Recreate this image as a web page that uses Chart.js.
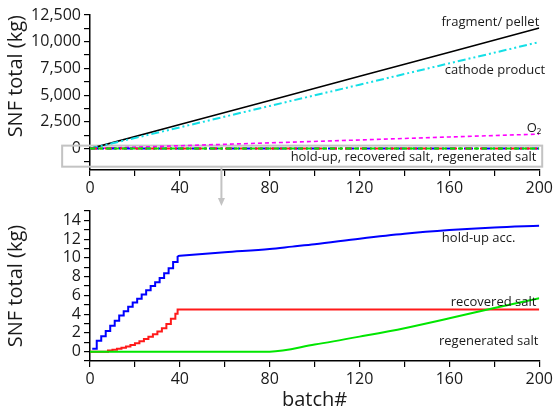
<!DOCTYPE html>
<html>
<head>
<meta charset="utf-8">
<script src="https://cdn.jsdelivr.net/npm/chart.js@4.4.1/dist/chart.umd.min.js"></script>
<style>
  body { margin: 0; background: #fff; width: 556px; height: 412px; position: relative; overflow: hidden; }
  canvas { position: absolute; left: 0; }
  #topChart { top: 0; z-index: 2; }
  #bottomChart { top: 195px; z-index: 1; }
</style>
</head>
<body>
<canvas id="bottomChart" width="556" height="217"></canvas>
<canvas id="topChart" width="556" height="210"></canvas>
<script>
// ---- data ----
var batch    = [0, 40, 80, 120, 160, 200];
var fragment = [0, 2260, 4510, 6770, 9020, 11280];
var cathode  = [0, 1990, 3990, 5980, 7980, 9970];
var oxygen   = [0, 270, 540, 810, 1090, 1360];

// hold-up: staircase part (batch 1-39) and the smooth part after
var holdupStepBatch = [1, 3, 5, 7, 9, 11, 13, 15, 17, 19, 21, 23, 25, 27, 29, 31, 33, 35, 37, 39];
var holdupStep      = [0.3, 1.15, 1.65, 2.2, 2.75, 3.3, 3.85, 4.3, 4.8, 5.25, 5.65, 6.1, 6.55, 7.0, 7.4, 7.85, 8.35, 8.9, 9.55, 10.2];
var holdupBatch = [39, 40, 60, 80, 90, 100, 120, 140, 160, 180, 200];
var holdup      = [10.2, 10.22, 10.6, 10.95, 11.2, 11.45, 12.05, 12.58, 12.97, 13.25, 13.43];

var recoveredBatch = [0, 8, 10, 12, 14, 16, 18, 20, 22, 24, 26, 28, 30, 32, 34, 36, 38, 39, 200];
var recovered      = [0, 0.12, 0.2, 0.3, 0.42, 0.55, 0.7, 0.9, 1.1, 1.35, 1.6, 1.85, 2.15, 2.5, 2.95, 3.5, 4.05, 4.5, 4.5];

var regenBatch = [0, 80, 100, 120, 140, 160, 180, 200];
var regen      = [0, 0, 0.75, 1.6, 2.5, 3.55, 4.65, 5.69];

// ticks
var xTicks = [0, 20, 40, 60, 80, 100, 120, 140, 160, 180, 200];
var xLabels = [0, 40, 80, 120, 160, 200];
var yTicksTop = [-1250, 0, 1250, 2500, 3750, 5000, 6250, 7500, 8750, 10000, 11250, 12500];
var yLabelsTop = [0, 2500, 5000, 7500, 10000, 12500];
var yTicksBottom = [-1, 0, 1, 2, 3, 4, 5, 6, 7, 8, 9, 10, 11, 12, 13, 14, 15];
var yLabelsBottom = [0, 2, 4, 6, 8, 10, 12, 14];

function pts(xs, ys) {
  return xs.map(function(x, i) { return {x: x, y: ys[i]}; });
}

var FONT = 'Open Sans';
var tickFont = {family: FONT, size: 16};
var textColor = '#1a1a1a';

var notes = {
  id: 'notes',
  beforeDatasetsDraw: function(chart, args, opts) {
    var b = opts.box;
    if (!b) return;
    var xs = chart.scales.x, ys = chart.scales.y, ctx = chart.ctx;
    var x0 = xs.getPixelForValue(b.x0), x1 = xs.getPixelForValue(b.x1);
    var y0 = ys.getPixelForValue(b.y0), y1 = ys.getPixelForValue(b.y1);
    ctx.save();
    ctx.strokeStyle = '#c3c3c3';
    ctx.lineWidth = 2;
    ctx.strokeRect(x0, y0, x1 - x0, y1 - y0);
    if (opts.arrow) {
      var ax = xs.getPixelForValue(opts.arrow.x);
      var ay = chart.height - 4;
      ctx.beginPath();
      ctx.moveTo(ax, y1);
      ctx.lineTo(ax, ay - 6);
      ctx.stroke();
      ctx.fillStyle = '#c3c3c3';
      ctx.beginPath();
      ctx.moveTo(ax - 3.5, ay - 8);
      ctx.lineTo(ax + 3.5, ay - 8);
      ctx.lineTo(ax, ay);
      ctx.closePath();
      ctx.fill();
    }
    ctx.restore();
  },
  afterDatasetsDraw: function(chart, args, opts) {
    var xs = chart.scales.x, ys = chart.scales.y, ctx = chart.ctx;
    ctx.save();
    ctx.fillStyle = textColor;
    ctx.textAlign = 'right';
    ctx.textBaseline = 'middle';
    (opts.texts || []).forEach(function(t) {
      ctx.font = '13px "' + FONT + '"';
      ctx.fillText(t.text, xs.getPixelForValue(t.x), ys.getPixelForValue(t.y));
    });
    ctx.restore();
  }
};

function xScale(showTitle, height) {
  return {
    type: 'linear', min: 0, max: 200,
    afterBuildTicks: function(s) { s.ticks = xTicks.map(function(v) { return {value: v}; }); },
    afterFit: function(s) { s.height = height; },
    ticks: {
      font: tickFont, color: textColor, padding: 3, maxRotation: 0, autoSkip: false,
      callback: function(v) { return xLabels.indexOf(v) >= 0 ? String(v) : ''; }
    },
    grid: {drawOnChartArea: false, drawTicks: true, tickLength: 6, color: '#000', lineWidth: 1.2},
    border: {color: '#000', width: 1.5},
    title: {display: showTitle, text: 'batch#', color: textColor, font: {family: FONT, size: 20}, padding: {top: 0, bottom: 0}}
  };
}

function yScale(min, max, ticks, labels, fmt, align) {
  return {
    type: 'linear', min: min, max: max,
    afterBuildTicks: function(s) { s.ticks = ticks.map(function(v) { return {value: v}; }); },
    afterFit: function(s) { s.width = 90; },
    ticks: {
      font: tickFont, color: textColor, padding: 3, autoSkip: false,
      callback: function(v) { return labels.indexOf(v) >= 0 ? fmt(v) : ''; }
    },
    grid: {drawOnChartArea: false, drawTicks: true, tickLength: 6, color: '#000', lineWidth: 1.2},
    border: {color: '#000', width: 1.5},
    title: {display: true, text: 'SNF total (kg)', align: align, color: textColor, font: {family: FONT, size: 20}, padding: {top: 4, bottom: 0}}
  };
}

var commonOpts = {
  responsive: false,
  animation: false,
  events: [],
  elements: {point: {radius: 0}, line: {borderCapStyle: 'butt'}},
  plugins: {legend: {display: false}, tooltip: {enabled: false}}
};

// ---- top chart ----
new Chart(document.getElementById('topChart'), {
  type: 'line',
  data: {
    datasets: [
      {data: pts(regenBatch, regen), borderColor: '#00e600', borderWidth: 2, borderDash: [5, 3]},
      {data: pts(recoveredBatch, recovered), borderColor: '#ff1a1a', borderWidth: 2, borderDash: [7, 3, 2, 3]},
      {data: pts(holdupBatch.slice(1).concat([]), holdup.slice(1)).length ? pts([0].concat(holdupBatch), [0].concat(holdup)) : [], borderColor: '#0000ff', borderWidth: 2, borderDash: [9, 3, 2, 3]},
      {data: pts(batch, oxygen), borderColor: '#ff00ff', borderWidth: 1.6, borderDash: [4, 3]},
      {data: pts(batch, cathode), borderColor: '#14dfe6', borderWidth: 2, borderDash: [8, 3, 2, 3, 2, 3]},
      {data: pts(batch, fragment), borderColor: '#000', borderWidth: 1.6}
    ]
  },
  options: Object.assign({}, commonOpts, {
    layout: {padding: {left: 0, right: 15, top: 15, bottom: 0}},
    scales: {
      x: xScale(false, 40),
      y: yScale(-2000, 12500, yTicksTop, yLabelsTop, function(v) { return v.toLocaleString('en-US'); }, 'end')
    },
    plugins: {
      legend: {display: false}, tooltip: {enabled: false},
      notes: {
        box: {x0: -12.4, x1: 201.3, y0: 280, y1: -1690},
        arrow: {x: 58.5},
        texts: [
          {text: 'fragment/ pellet', x: 200, y: 11840},
          {text: 'cathode product', x: 202.6, y: 7350},
          {text: 'O\u2082', x: 200.9, y: 1930},
          {text: 'hold-up, recovered salt, regenerated salt', x: 198.7, y: -790}
        ]
      }
    }
  }),
  plugins: [notes]
});

// ---- bottom chart ----
new Chart(document.getElementById('bottomChart'), {
  type: 'line',
  data: {
    datasets: [
      {data: pts(regenBatch, regen), borderColor: '#00e600', borderWidth: 2, cubicInterpolationMode: 'monotone'},
      {data: pts(recoveredBatch, recovered), borderColor: '#ff1a1a', borderWidth: 2, stepped: true},
      {data: pts(holdupStepBatch, holdupStep), borderColor: '#0000ff', borderWidth: 2, stepped: true},
      {data: pts(holdupBatch, holdup), borderColor: '#0000ff', borderWidth: 2, cubicInterpolationMode: 'monotone'}
    ]
  },
  options: Object.assign({}, commonOpts, {
    layout: {padding: {left: 0, right: 15, top: 16, bottom: 0}},
    scales: {
      x: xScale(true, 51),
      y: yScale(-1, 15, yTicksBottom, yLabelsBottom, function(v) { return String(v); }, 'center')
    },
    plugins: {
      legend: {display: false}, tooltip: {enabled: false},
      notes: {
        texts: [
          {text: 'hold-up acc.', x: 189.4, y: 12.1},
          {text: 'recovered salt', x: 198.7, y: 5.3},
          {text: 'regenerated salt', x: 199.6, y: 1.13}
        ]
      }
    }
  }),
  plugins: [notes]
});
</script>
</body>
</html>
